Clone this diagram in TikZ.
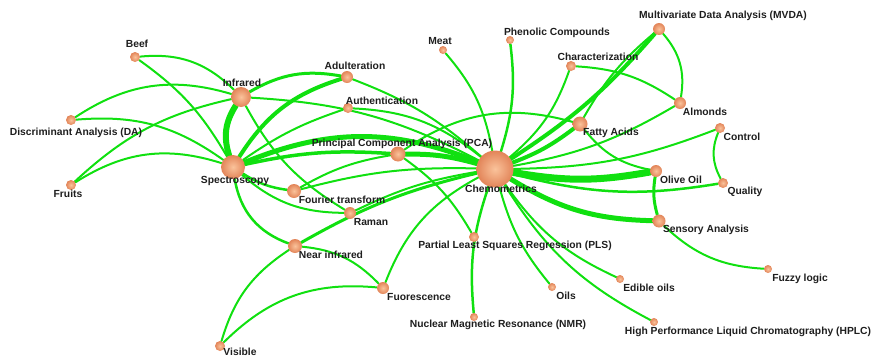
\documentclass[tikz,border=0pt]{standalone}
\usepackage{fontspec}
\setmainfont{Liberation Sans}
\usetikzlibrary{backgrounds}
\definecolor{edgec}{RGB}{16,224,16}
\definecolor{txtc}{RGB}{30,30,30}
\definecolor{ndin}{RGB}{250,195,155}
\definecolor{ndout}{RGB}{226,132,88}
\tikzset{
  nd/.style={circle, inner sep=0pt, shade, inner color=ndin, outer color=ndout},
  lb/.style={font=\fontsize{10.3}{12}\selectfont\bfseries, text=txtc, inner sep=0pt},
  ed/.style={draw=edgec, line width=2pt, line cap=round},
}
\begin{document}
\begin{tikzpicture}[x=1pt,y=1pt]
\useasboundingbox (0,0) rectangle (873,-359);
% nodes
\node[nd, minimum size=37pt] (chem) at (495,-169) {};
\node[nd, minimum size=24pt] (spec) at (233,-167) {};
\node[nd, minimum size=20pt] (infr) at (241,-97) {};
\node[nd, minimum size=12pt] (adul) at (347,-77) {};
\node[nd, minimum size=10pt] (auth) at (348,-108) {};
\node[nd, minimum size=15pt] (pca) at (398,-154) {};
\node[nd, minimum size=14pt] (four) at (294,-191) {};
\node[nd, minimum size=12pt] (raman) at (350,-213) {};
\node[nd, minimum size=14pt] (nir) at (295,-246) {};
\node[nd, minimum size=12pt] (fluo) at (383,-288) {};
\node[nd, minimum size=10pt] (vis) at (220,-346) {};
\node[nd, minimum size=10pt] (beef) at (135,-57) {};
\node[nd, minimum size=10pt] (da) at (71,-120) {};
\node[nd, minimum size=10pt] (fruits) at (71,-185) {};
\node[nd, minimum size=8pt] (meat) at (443,-50) {};
\node[nd, minimum size=8pt] (phen) at (510,-40) {};
\node[nd, minimum size=10pt] (charac) at (571,-66) {};
\node[nd, minimum size=12pt] (mvda) at (659,-29) {};
\node[nd, minimum size=12pt] (alm) at (680,-103) {};
\node[nd, minimum size=15pt] (fatty) at (580,-124) {};
\node[nd, minimum size=10pt] (ctrl) at (720,-128) {};
\node[nd, minimum size=12pt] (olive) at (656,-171) {};
\node[nd, minimum size=10pt] (qual) at (723,-183) {};
\node[nd, minimum size=13pt] (sens) at (659,-221) {};
\node[nd, minimum size=8pt] (fuzzy) at (768,-269) {};
\node[nd, minimum size=10pt] (pls) at (474,-237) {};
\node[nd, minimum size=8pt] (oils) at (552,-287) {};
\node[nd, minimum size=8pt] (edible) at (620,-279) {};
\node[nd, minimum size=8pt] (nmr) at (474,-317) {};
\node[nd, minimum size=8pt] (hplc) at (654,-322) {};
% labels
\node[lb] (lchem) at (501,-189) {Chemometrics};
\node[lb] (lspec) at (235,-181) {Spectroscopy};
\node[lb] (linfr) at (242,-83) {Infrared};
\node[lb] (ladul) at (355,-66) {Adulteration};
\node[lb] (lauth) at (382,-101) {Authentication};
\node[lb] (lpca) at (402,-144) {Principal Component Analysis (PCA)};
\node[lb] (lfour) at (342,-200) {Fourier transform};
\node[lb] (lraman) at (371,-222) {Raman};
\node[lb] (lnir) at (331,-255) {Near infrared};
\node[lb] (lfluo) at (419,-297) {Fuorescence};
\node[lb] (lvis) at (240,-352) {Visible};
\node[lb] (lbeef) at (137,-44) {Beef};
\node[lb] (lda) at (76,-133) {Discriminant Analysis (DA)};
\node[lb] (lfruits) at (68,-194) {Fruits};
\node[lb] (lmeat) at (440,-41) {Meat};
\node[lb] (lphen) at (557,-33) {Phenolic Compounds};
\node[lb] (lcharac) at (598,-57) {Characterization};
\node[lb] (lmvda) at (723,-16) {Multivariate Data Analysis (MVDA)};
\node[lb] (lalm) at (705,-112) {Almonds};
\node[lb] (lfatty) at (611,-133) {Fatty Acids};
\node[lb] (lctrl) at (742,-137) {Control};
\node[lb] (lolive) at (681,-180) {Olive Oil};
\node[lb] (lqual) at (745,-192) {Quality};
\node[lb] (lsens) at (706,-230) {Sensory Analysis};
\node[lb] (lfuzzy) at (800,-279) {Fuzzy logic};
\node[lb] (lpls) at (515,-246) {Partial Least Squares Regression (PLS)};
\node[lb] (loils) at (566,-296) {Oils};
\node[lb] (ledible) at (649,-288) {Edible oils};
\node[lb] (lnmr) at (498,-325) {Nuclear Magnetic Resonance (NMR)};
\node[lb] (lhplc) at (748,-332) {High Performance Liquid Chromatography (HPLC)};
% edges
\begin{pgfonlayer}{background}
\draw[ed, line width=6pt] (spec) to[bend left=25] (infr);
\draw[ed, line width=4pt] (spec) to[bend left=20] (adul);
\draw[ed, line width=3pt] (infr) to[bend left=20] (adul);
\draw[ed, line width=5pt] (spec) to[bend left=22] (chem);
\draw[ed, line width=3.5pt] (spec) to[bend left=8] (pca);
\draw[ed, line width=2.5pt] (spec) to[bend right=12] (four);
\draw[ed] (spec) to[bend right=20] (raman);
\draw[ed, line width=2.5pt] (spec) to[bend right=30] (nir);
\draw[ed] (da) to[bend left=20] (spec);
\draw[ed] (da) to[bend left=25] (infr);
\draw[ed] (fruits) to[bend left=15] (infr);
\draw[ed] (fruits) to[bend left=25] (spec);
\draw[ed] (beef) to[bend left=25] (infr);
\draw[ed] (beef) to[bend left=12] (spec);
\draw[ed] (infr) to[bend left=12] (chem);
\draw[ed] (infr) to[bend right=15] (raman);
\draw[ed] (adul) to[bend left=10] (chem);
\draw[ed] (auth) to[bend right=8] (spec);
\draw[ed] (auth) to[bend left=18] (chem);
\draw[ed, line width=5pt] (pca) to[bend left=8] (chem);
\draw[ed] (four) to[bend left=10] (pca);
\draw[ed] (pca) to[bend left=12] (pls);
\draw[ed] (pca) to[bend left=25] (fatty);
\draw[ed] (meat) to[bend left=15] (chem);
\draw[ed, line width=2.5pt] (phen) to[bend left=12] (chem);
\draw[ed] (charac) to[bend left=15] (chem);
\draw[ed, line width=4pt] (mvda) to[bend left=8] (chem);
\draw[ed, line width=4pt] (fatty) to[bend left=8] (chem);
\draw[ed] (alm) to[bend left=10] (chem);
\draw[ed] (ctrl) to[bend left=10] (chem);
\draw[ed, line width=7pt] (olive) to[bend left=10] (chem);
\draw[ed, line width=2.5pt] (qual) to[bend left=12] (chem);
\draw[ed, line width=5pt] (sens) to[bend left=15] (chem);
\draw[ed] (chem) to[bend right=15] (edible);
\draw[ed] (chem) to[bend right=12] (oils);
\draw[ed] (chem) to[bend right=15] (hplc);
\draw[ed, line width=2.5pt] (nmr) to[bend left=12] (chem);
\draw[ed] (fluo) to[bend left=20] (chem);
\draw[ed, line width=3pt] (nir) to[bend left=8] (chem);
\draw[ed] (four) to[bend left=8] (chem);
\draw[ed] (raman) to[bend left=8] (chem);
\draw[ed] (fatty) to[bend right=20] (olive);
\draw[ed, line width=3pt] (olive) to[bend right=12] (sens);
\draw[ed] (ctrl) to[bend right=25] (qual);
\draw[ed] (sens) to[bend right=20] (fuzzy);
\draw[ed] (mvda) to[bend left=25] (alm);
\draw[ed] (mvda) to[bend right=10] (fatty);
\draw[ed] (charac) to[bend left=15] (alm);
\draw[ed] (nir) to[bend left=20] (fluo);
\draw[ed] (nir) to[bend right=20] (vis);
\draw[ed] (fluo) to[bend right=25] (vis);
\end{pgfonlayer}
\end{tikzpicture}
\end{document}
